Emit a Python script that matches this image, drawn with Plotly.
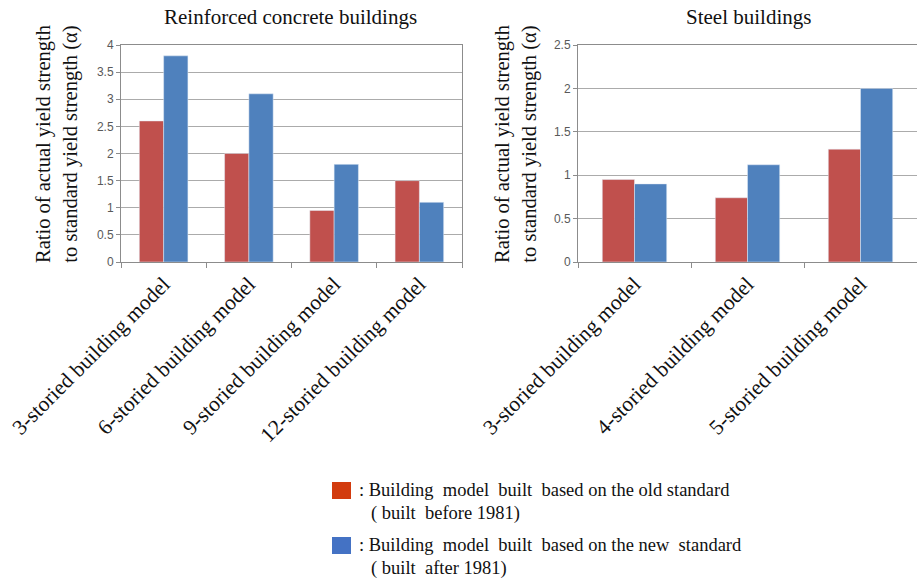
import plotly.graph_objects as go

# Reinforced concrete building models
rc_categories = ["3-storied building model", "6-storied building model",
                 "9-storied building model", "12-storied building model"]
rc_old = [2.6, 2.0, 0.95, 1.5]
rc_new = [3.8, 3.1, 1.8, 1.1]

# Steel building models
steel_categories = ["3-storied building model", "4-storied building model",
                    "5-storied building model"]
steel_old = [0.95, 0.74, 1.3]
steel_new = [0.9, 1.12, 2.0]

rc_ticks = [0, 0.5, 1, 1.5, 2, 2.5, 3, 3.5, 4]
steel_ticks = [0, 0.5, 1, 1.5, 2, 2.5]

titles = ["Reinforced concrete buildings", "Steel buildings"]
y_title = "Ratio of actual yield strength<br>to standard yield strength (α)"
legend_lines = [
    (": Building  model  built  based on the old standard", "( built  before 1981)"),
    (": Building  model  built  based on the new  standard", "( built  after 1981)"),
]

RED = "#C0504D"
BLUE = "#4F81BD"
LEG_RED = "#D23B0E"
LEG_BLUE = "#4472C4"
SERIF = "Liberation Serif, Times New Roman, serif"
SANS = "Liberation Sans, Arial, sans-serif"

fig = go.Figure()
fig.add_trace(go.Bar(x=rc_categories, y=rc_old, marker_color=RED,
                     xaxis="x", yaxis="y", showlegend=False))
fig.add_trace(go.Bar(x=rc_categories, y=rc_new, marker_color=BLUE,
                     xaxis="x", yaxis="y", showlegend=False))
fig.add_trace(go.Bar(x=steel_categories, y=steel_old, marker_color=RED,
                     xaxis="x2", yaxis="y2", showlegend=False))
fig.add_trace(go.Bar(x=steel_categories, y=steel_new, marker_color=BLUE,
                     xaxis="x2", yaxis="y2", showlegend=False))

W, H = 917, 580
ML, MR, MT, MB = 121, 0, 45, 318
PW = W - ML - MR
PH = H - MT - MB


def px(x):
    return (x - ML) / PW


def py(y):
    return (H - MB - y) / PH


xcommon = dict(
    type="category", showline=True, linecolor="#8c8c8c", linewidth=1,
    mirror=True, ticks="outside", tickson="boundaries", ticklen=5,
    tickcolor="#8c8c8c", tickangle=-45, showgrid=False,
    tickfont=dict(family=SERIF, size=21.5, color="#111111"),
)
ycommon = dict(
    showline=True, linecolor="#8c8c8c", linewidth=1, mirror=True,
    ticks="outside", ticklen=4, tickcolor="#8c8c8c",
    gridcolor="#ababab", gridwidth=1, zeroline=False,
    tickfont=dict(family=SANS, size=12, color="#595959"),
)

fig.update_layout(
    width=W, height=H,
    margin=dict(l=ML, r=MR, t=MT, b=MB),
    paper_bgcolor="white", plot_bgcolor="white",
    barmode="group", bargap=0.43, bargroupgap=0,
    xaxis=dict(domain=[0, px(462)], anchor="y", **xcommon),
    yaxis=dict(domain=[0, 1], anchor="x", range=[0, 4], tickvals=rc_ticks,
               ticktext=[f"{v:g}" for v in rc_ticks], **ycommon),
    xaxis2=dict(domain=[px(578), 1], anchor="y2", **xcommon),
    yaxis2=dict(domain=[0, 1], anchor="x2", range=[0, 2.5], tickvals=steel_ticks,
                ticktext=[f"{v:g}" for v in steel_ticks], **ycommon),
)

ann = []
# panel titles
for text, xc in [(titles[0], 290), (titles[1], 748)]:
    ann.append(dict(x=px(xc), y=py(17), xref="paper", yref="paper", text=text,
                    xanchor="center", yanchor="middle", showarrow=False,
                    font=dict(family=SERIF, size=21, color="#111111")))
# y-axis titles
for xc, yc in [(57, 144), (516, 144)]:
    ann.append(dict(x=px(xc), y=py(yc), xref="paper", yref="paper", text=y_title,
                    textangle=-90, xanchor="center", yanchor="middle",
                    showarrow=False,
                    font=dict(family=SERIF, size=20.5, color="#111111")))

# legend swatches and text
shapes = []
for (l1, l2), col, ytop in [(legend_lines[0], LEG_RED, 482), (legend_lines[1], LEG_BLUE, 537)]:
    shapes.append(dict(type="rect", xref="paper", yref="paper",
                       x0=px(332), x1=px(351), y0=py(ytop), y1=py(ytop + 17),
                       fillcolor=col, line=dict(width=0)))
    ann.append(dict(x=px(357), y=py(ytop + 8), xref="paper", yref="paper", text=l1,
                    xanchor="left", yanchor="middle", showarrow=False,
                    font=dict(family=SERIF, size=18.5, color="#111111")))
    ann.append(dict(x=px(369), y=py(ytop + 31), xref="paper", yref="paper", text=l2,
                    xanchor="left", yanchor="middle", showarrow=False,
                    font=dict(family=SERIF, size=18.5, color="#111111")))

fig.update_layout(annotations=ann, shapes=shapes)
fig.write_html("out.html")
